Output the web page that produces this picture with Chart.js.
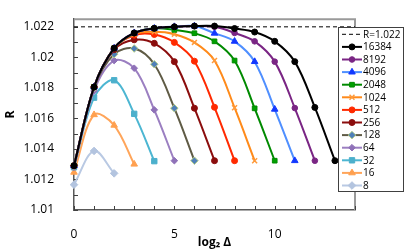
<!DOCTYPE html>
<html>
<head>
<meta charset="utf-8">
<script src="https://cdn.jsdelivr.net/npm/chart.js@4/dist/chart.umd.min.js"></script>
<style>
  html, body { margin: 0; padding: 0; background: #fff; }
  #wrap { width: 404px; height: 252px; position: relative; }
</style>
</head>
<body>
<div id="wrap"><canvas id="chart"></canvas></div>
<script>
// log2(Delta) positions and R values, one array per N
const logDelta = [0, 1, 2, 3, 4, 5, 6, 7, 8, 9, 10, 11, 12, 13];

const r16384 = [1.01290, 1.01806, 1.02060, 1.02160, 1.02190, 1.02200, 1.02205, 1.02205, 1.02189, 1.02166, 1.02105, 1.01972, 1.01672, 1.01323];
const r8192  = [1.01290, 1.01806, 1.02060, 1.02160, 1.02190, 1.02200, 1.02205, 1.02200, 1.02160, 1.02105, 1.01972, 1.01668, 1.01323];
const r4096  = [1.01290, 1.01806, 1.02060, 1.02160, 1.02190, 1.02201, 1.02205, 1.02158, 1.02105, 1.01972, 1.01660, 1.01323];
const r2048  = [1.01290, 1.01806, 1.02060, 1.02158, 1.02190, 1.02180, 1.02158, 1.02105, 1.01979, 1.01666, 1.01323];
const r1024  = [1.01290, 1.01806, 1.02060, 1.02152, 1.02167, 1.02152, 1.02098, 1.01979, 1.01670, 1.01323];
const r512   = [1.01290, 1.01806, 1.02060, 1.02145, 1.02150, 1.02098, 1.01975, 1.01673, 1.01323];
const r256   = [1.01290, 1.01806, 1.02050, 1.02115, 1.02092, 1.01972, 1.01667, 1.01323];
const r128   = [1.01290, 1.01800, 1.02021, 1.02058, 1.01955, 1.01667, 1.01323];
const r64    = [1.01280, 1.01780, 1.01979, 1.01929, 1.01656, 1.01323];
const r32    = [1.01280, 1.01736, 1.01850, 1.01630, 1.01320];
const r16    = [1.01247, 1.01624, 1.01555, 1.01300];
const r8     = [1.01166, 1.01387, 1.01240];

const seriesNames = ['16384', '8192', '4096', '2048', '1024', '512', '256', '128', '64', '32', '16', '8'];
const seriesValues = [r16384, r8192, r4096, r2048, r1024, r512, r256, r128, r64, r32, r16, r8];

const refLevel = 1.022;
const refLabel = 'R=1.022';

const xTicks = [0, 1, 2, 3, 4, 5, 6, 7, 8, 9, 10, 11, 12, 13, 14];
const xLabels = ['0', '', '', '', '', '5', '', '', '', '', '10', '', '', '', ''];
const yTicks = [1.010, 1.011, 1.012, 1.013, 1.014, 1.015, 1.016, 1.017, 1.018, 1.019, 1.020, 1.021, 1.022];
const yLabels = ['1.01', '', '1.012', '', '1.014', '', '1.016', '', '1.018', '', '1.02', '', '1.022'];

// look of each series: line colour, marker colour, marker border, shape, size
const styles = [
  { line: '#000000', fill: '#000000', edge: '#000000', shape: 'circle',   r: 3 },
  { line: '#7a2584', fill: '#7a2584', edge: '#7a2584', shape: 'circle',   r: 2.8 },
  { line: '#4f8fff', fill: '#1238ff', edge: '#1238ff', shape: 'triangle', r: 3.8 },
  { line: '#008a00', fill: '#00a000', edge: '#008a00', shape: 'rect',     r: 3.3 },
  { line: '#ff8a1a', fill: '#ff8a1a', edge: '#ff9a3a', shape: 'crossRot', r: 3.5 },
  { line: '#ff2a00', fill: '#ff2a00', edge: '#ff2a00', shape: 'circle',   r: 3 },
  { line: '#8b0d0d', fill: '#8b0d0d', edge: '#8b0d0d', shape: 'circle',   r: 3 },
  { line: '#5f5b45', fill: '#4f7fb8', edge: '#b8d08a', shape: 'rectRot',  r: 3.8 },
  { line: '#9b7fc1', fill: '#8f71b8', edge: '#8f71b8', shape: 'rectRot',  r: 3.3 },
  { line: '#4cb6d2', fill: '#4cb0cc', edge: '#4cb0cc', shape: 'rect',     r: 3.8 },
  { line: '#ffa55a', fill: '#ffa04f', edge: '#ffa04f', shape: 'triangle', r: 3.8 },
  { line: '#b9c9e3', fill: '#b3c4df', edge: '#b3c4df', shape: 'rectRot',  r: 3.8 }
];

const FONT = '"Open Sans", "DejaVu Sans", sans-serif';

const datasets = [{
  label: refLabel,
  data: [{ x: xTicks[0], y: refLevel }, { x: xTicks[xTicks.length - 1], y: refLevel }],
  borderColor: '#000',
  borderWidth: 1,
  borderDash: [4, 3],
  pointRadius: 0,
  tension: 0,
  clip: false
}];

seriesValues.forEach((values, i) => {
  const s = styles[i];
  datasets.push({
    label: seriesNames[i],
    data: values.map((v, j) => ({ x: logDelta[j], y: v })),
    borderColor: s.line,
    backgroundColor: s.fill,
    borderWidth: 2,
    tension: 0.35,
    pointStyle: s.shape,
    pointRadius: s.r,
    pointBackgroundColor: s.fill,
    pointBorderColor: s.edge,
    pointBorderWidth: s.shape === 'crossRot' ? 1.5 : 1,
    clip: false
  });
});

// ticks that point into the plot, plus the grey frame on top and right
const frameAndTicks = {
  id: 'frameAndTicks',
  beforeDatasetsDraw(chart) {
    const { ctx, chartArea: a, scales } = chart;
    ctx.save();
    ctx.strokeStyle = '#9a9a9a';
    ctx.lineWidth = 2;
    ctx.beginPath();
    ctx.moveTo(a.left, a.top);
    ctx.lineTo(a.right, a.top);
    ctx.lineTo(a.right, a.bottom);
    ctx.stroke();

    ctx.strokeStyle = '#404040';
    ctx.lineWidth = 1;
    ctx.beginPath();
    scales.y.ticks.forEach(t => {
      const y = Math.round(scales.y.getPixelForValue(t.value)) + 0.5;
      ctx.moveTo(a.left, y);
      ctx.lineTo(a.left + 4, y);
    });
    scales.x.ticks.forEach(t => {
      const x = Math.round(scales.x.getPixelForValue(t.value)) + 0.5;
      ctx.moveTo(x, a.bottom);
      ctx.lineTo(x, a.bottom - 4);
    });
    ctx.stroke();
    ctx.restore();
  }
};

// boxed legend drawn over the right edge of the plot
const boxLegend = {
  id: 'boxLegend',
  afterDraw(chart) {
    const ctx = chart.ctx;
    const left = 338.5, top = 27.5, right = 403.5, bottom = 191.5;
    const rowH = 12.6, firstY = 34.3;
    ctx.save();
    ctx.fillStyle = '#fff';
    ctx.fillRect(left, top, right - left, bottom - top);
    ctx.strokeStyle = '#404040';
    ctx.lineWidth = 1;
    ctx.strokeRect(left, top, right - left, bottom - top);

    ctx.font = '10px ' + FONT;
    ctx.textBaseline = 'middle';
    chart.data.datasets.forEach((ds, i) => {
      const y = firstY + i * rowH;
      ctx.strokeStyle = ds.borderColor;
      ctx.lineWidth = ds.borderWidth;
      ctx.setLineDash(ds.borderDash || []);
      ctx.beginPath();
      ctx.moveTo(342, y);
      ctx.lineTo(362, y);
      ctx.stroke();
      ctx.setLineDash([]);
      if (ds.pointRadius) {
        ctx.fillStyle = ds.pointBackgroundColor;
        ctx.strokeStyle = ds.pointBorderColor;
        ctx.lineWidth = ds.pointBorderWidth;
        Chart.helpers.drawPoint(ctx, {
          pointStyle: ds.pointStyle,
          radius: ds.pointRadius,
          rotation: 0,
          borderWidth: ds.pointBorderWidth
        }, 352, y);
      }
      ctx.fillStyle = '#000';
      ctx.fillText(ds.label, 363, y + 0.5);
    });
    ctx.restore();
  }
};

new Chart(document.getElementById('chart'), {
  type: 'line',
  data: { datasets: datasets },
  options: {
    responsive: true,
    maintainAspectRatio: false,
    animation: false,
    layout: { padding: { top: 16, right: 49, left: 0, bottom: 0 } },
    scales: {
      x: {
        type: 'linear',
        min: 0,
        max: 14,
        afterFit(scale) { scale.height = 42; },
        afterBuildTicks(scale) { scale.ticks = xTicks.map(v => ({ value: v })); },
        grid: { display: false },
        border: { display: true, color: '#595959', width: 1.5 },
        ticks: {
          autoSkip: false,
          maxRotation: 0,
          padding: 9,
          color: '#000',
          font: { family: FONT, size: 12 },
          callback: (v, i) => xLabels[i]
        },
        title: {
          display: true,
          text: 'log₂ Δ',
          color: '#000',
          padding: { top: 0, bottom: 2 },
          font: { family: FONT, size: 12, weight: 'bold' }
        }
      },
      y: {
        min: 1.01,
        max: 1.0225,
        afterFit(scale) { scale.width = 74; },
        afterBuildTicks(scale) { scale.ticks = yTicks.map(v => ({ value: v })); },
        grid: { display: false },
        border: { display: true, color: '#595959', width: 1.5 },
        ticks: {
          autoSkip: false,
          padding: 12,
          color: '#000',
          font: { family: FONT, size: 12 },
          callback: (v, i) => yLabels[i]
        },
        title: {
          display: true,
          text: 'R',
          color: '#000',
          padding: { top: 3, bottom: 0 },
          font: { family: FONT, size: 12, weight: 'bold' }
        }
      }
    },
    plugins: {
      legend: { display: false },
      tooltip: { enabled: false }
    }
  },
  plugins: [frameAndTicks, boxLegend]
});
</script>
</body>
</html>
